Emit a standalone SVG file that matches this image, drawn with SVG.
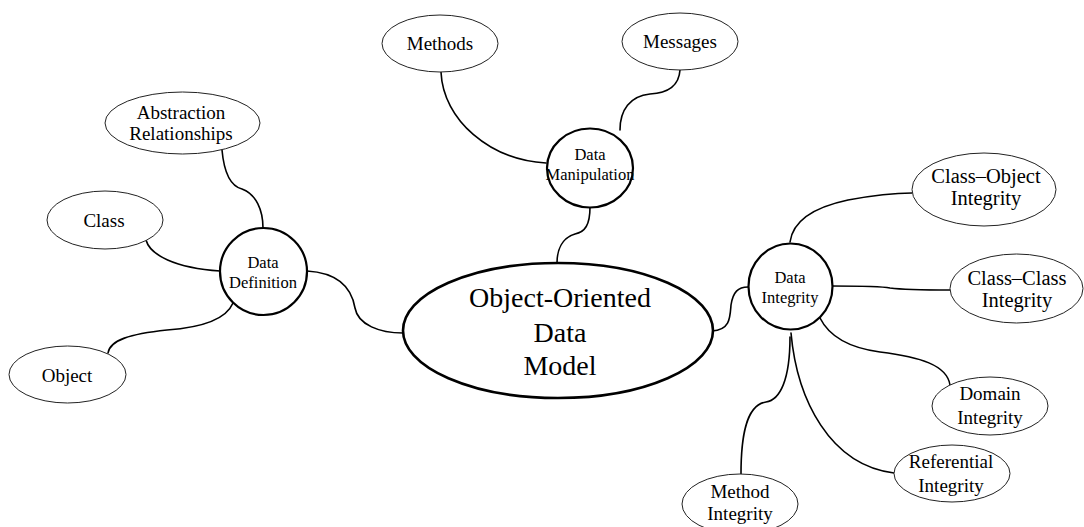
<svg xmlns="http://www.w3.org/2000/svg" width="1084" height="527" viewBox="0 0 1084 527">
  <style>
    .leaf { fill: #fff; stroke: #222; stroke-width: 1; }
    .hub { fill: #fff; stroke: #000; stroke-width: 2.2; }
    .core { fill: #fff; stroke: #000; stroke-width: 2.6; }
    .link { fill: none; stroke: #000; stroke-width: 1.6; stroke-linecap: round; }
    text { font-family: "Liberation Serif", "Times New Roman", serif; fill: #000; text-anchor: middle; }
    .t19 { font-size: 19px; }
    .t21 { font-size: 20.5px; }
    .t16 { font-size: 16.5px; }
    .t28 { font-size: 28px; }
  </style>
  <rect width="1084" height="527" fill="#fff"/>

  <!-- connectors -->
  <g id="connectors">
    <path class="link" d="M222,150 C224,172 230,186 242,189 C256,194 263,210 263,228"/>
    <path class="link" d="M146,240 C150,255 175,268 220,271"/>
    <path class="link" d="M233,303 C225,322 195,328 167,330 C130,334 110,340 108,353"/>
    <path class="link" d="M307,271 C340,273 352,290 355,308 C358,325 380,333 403,333"/>
    <path class="link" d="M441,72 C443,120 490,160 546,163"/>
    <path class="link" d="M680,70 C679,85 670,93 650,94 C630,96 620,110 620,130"/>
    <path class="link" d="M590,207 C590,225 585,232 575,234 C562,238 557,250 557,263"/>
    <path class="link" d="M712,331 C730,330 730,318 731,305 C733,292 738,287 748,287"/>
    <path class="link" d="M790,242 C793,220 815,207 848,200 C875,195 895,193 912,193"/>
    <path class="link" d="M832,286 C860,286 880,286 890,288 C905,290 925,290 950,290"/>
    <path class="link" d="M820,318 C830,338 850,348 880,352 C920,357 947,365 950,385"/>
    <path class="link" d="M791,333 C797,400 830,465 894,473"/>
    <path class="link" d="M790,337 C790,380 780,400 766,402 C745,405 741,440 741,474"/>
  </g>

  <!-- central node -->
  <g id="oodm">
    <ellipse class="core" cx="558" cy="330.5" rx="155" ry="67.5"/>
    <text class="t28" x="560" y="307">Object-Oriented</text>
    <text class="t28" x="560" y="342">Data</text>
    <text class="t28" x="560" y="375">Model</text>
  </g>

  <!-- hubs -->
  <g id="data-definition">
    <ellipse class="hub" cx="263.5" cy="271.5" rx="43.5" ry="43.5"/>
    <text class="t16" x="263" y="268">Data</text>
    <text class="t16" x="263" y="288">Definition</text>
  </g>
  <g id="data-manipulation">
    <ellipse class="hub" cx="590" cy="168" rx="43" ry="39.5"/>
    <text class="t16" x="590" y="160">Data</text>
    <text class="t16" x="590" y="180">Manipulation</text>
  </g>
  <g id="data-integrity">
    <ellipse class="hub" cx="790.5" cy="286.5" rx="42" ry="43"/>
    <text class="t16" x="790" y="283">Data</text>
    <text class="t16" x="790" y="303">Integrity</text>
  </g>

  <!-- leaves -->
  <g id="abstraction-relationships">
    <ellipse class="leaf" cx="182.5" cy="123" rx="77.5" ry="31"/>
    <text class="t19" x="181" y="119">Abstraction</text>
    <text class="t19" x="181" y="140">Relationships</text>
  </g>
  <g id="class">
    <ellipse class="leaf" cx="105" cy="220" rx="58" ry="29"/>
    <text class="t19" x="104" y="227">Class</text>
  </g>
  <g id="object">
    <ellipse class="leaf" cx="67.5" cy="374.5" rx="58.5" ry="28.5"/>
    <text class="t19" x="67" y="382">Object</text>
  </g>
  <g id="methods">
    <ellipse class="leaf" cx="440" cy="43.5" rx="58" ry="28.5"/>
    <text class="t19" x="440" y="50">Methods</text>
  </g>
  <g id="messages">
    <ellipse class="leaf" cx="680" cy="41.5" rx="58" ry="28.5"/>
    <text class="t19" x="680" y="48">Messages</text>
  </g>
  <g id="class-object-integrity">
    <ellipse class="leaf" cx="984" cy="189.5" rx="72" ry="36.5"/>
    <text class="t21" x="986" y="183">Class–Object</text>
    <text class="t21" x="986" y="205">Integrity</text>
  </g>
  <g id="class-class-integrity">
    <ellipse class="leaf" cx="1016.5" cy="288.5" rx="66.5" ry="34.5"/>
    <text class="t21" x="1017" y="285">Class–Class</text>
    <text class="t21" x="1017" y="307">Integrity</text>
  </g>
  <g id="domain-integrity">
    <ellipse class="leaf" cx="990" cy="406" rx="58" ry="29"/>
    <text class="t19" x="990" y="400">Domain</text>
    <text class="t19" x="990" y="424">Integrity</text>
  </g>
  <g id="referential-integrity">
    <ellipse class="leaf" cx="952" cy="473.5" rx="58" ry="28.5"/>
    <text class="t19" x="951" y="468">Referential</text>
    <text class="t19" x="951" y="492">Integrity</text>
  </g>
  <g id="method-integrity">
    <ellipse class="leaf" cx="740" cy="504" rx="58" ry="30"/>
    <text class="t19" x="740" y="498">Method</text>
    <text class="t19" x="740" y="520">Integrity</text>
  </g>
</svg>
